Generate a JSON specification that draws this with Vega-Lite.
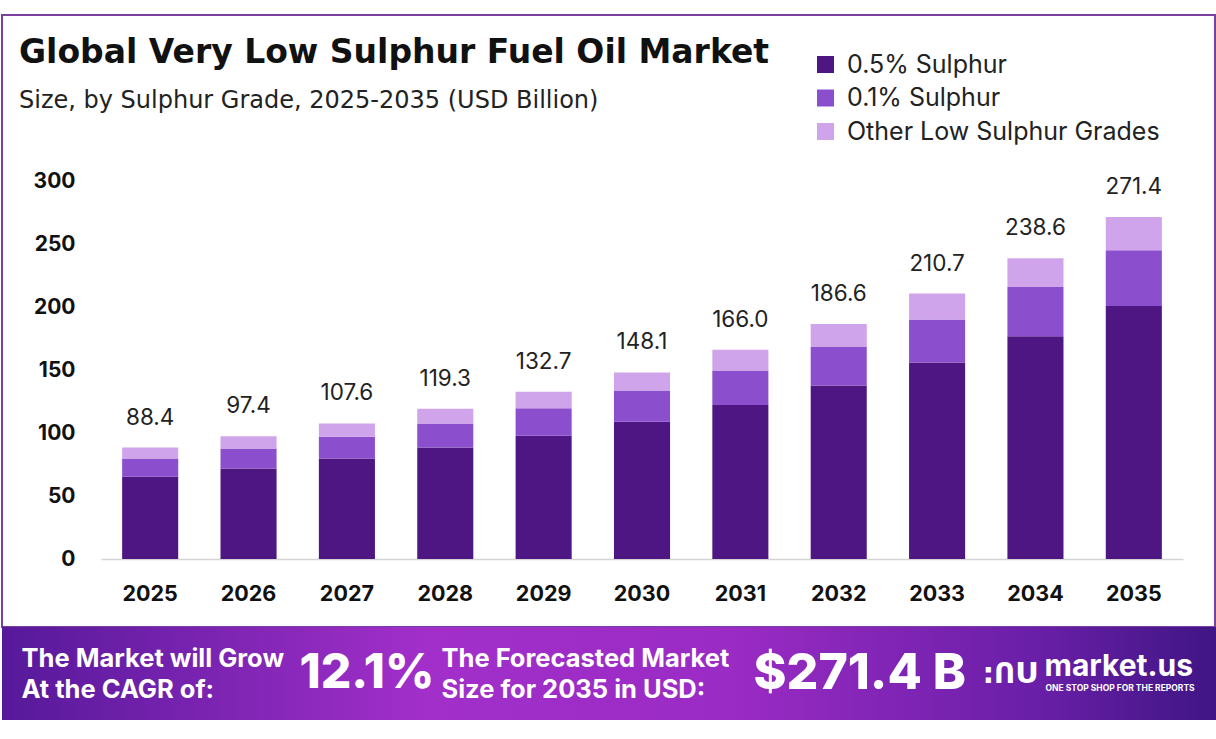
{
  "$schema": "https://vega.github.io/schema/vega-lite/v6.json",
  "padding": {"left": 1, "top": 14, "right": 0, "bottom": 0},
  "background": "white",
  "spacing": 0,
  "bounds": "flush",
  "datasets": {
    "segments": [
      {"year": "2025", "grade": "0.5% Sulphur", "value": 65.2},
      {"year": "2025", "grade": "0.1% Sulphur", "value": 14.6},
      {"year": "2025", "grade": "Other Low Sulphur Grades", "value": 8.6},
      {"year": "2026", "grade": "0.5% Sulphur", "value": 71.8},
      {"year": "2026", "grade": "0.1% Sulphur", "value": 15.9},
      {"year": "2026", "grade": "Other Low Sulphur Grades", "value": 9.7},
      {"year": "2027", "grade": "0.5% Sulphur", "value": 79.8},
      {"year": "2027", "grade": "0.1% Sulphur", "value": 17.2},
      {"year": "2027", "grade": "Other Low Sulphur Grades", "value": 10.6},
      {"year": "2028", "grade": "0.5% Sulphur", "value": 88.5},
      {"year": "2028", "grade": "0.1% Sulphur", "value": 19.1},
      {"year": "2028", "grade": "Other Low Sulphur Grades", "value": 11.7},
      {"year": "2029", "grade": "0.5% Sulphur", "value": 97.9},
      {"year": "2029", "grade": "0.1% Sulphur", "value": 21.7},
      {"year": "2029", "grade": "Other Low Sulphur Grades", "value": 13.1},
      {"year": "2030", "grade": "0.5% Sulphur", "value": 109.0},
      {"year": "2030", "grade": "0.1% Sulphur", "value": 24.7},
      {"year": "2030", "grade": "Other Low Sulphur Grades", "value": 14.4},
      {"year": "2031", "grade": "0.5% Sulphur", "value": 122.3},
      {"year": "2031", "grade": "0.1% Sulphur", "value": 27.3},
      {"year": "2031", "grade": "Other Low Sulphur Grades", "value": 16.4},
      {"year": "2032", "grade": "0.5% Sulphur", "value": 137.6},
      {"year": "2032", "grade": "0.1% Sulphur", "value": 31.1},
      {"year": "2032", "grade": "Other Low Sulphur Grades", "value": 17.9},
      {"year": "2033", "grade": "0.5% Sulphur", "value": 156.0},
      {"year": "2033", "grade": "0.1% Sulphur", "value": 34.1},
      {"year": "2033", "grade": "Other Low Sulphur Grades", "value": 20.6},
      {"year": "2034", "grade": "0.5% Sulphur", "value": 176.8},
      {"year": "2034", "grade": "0.1% Sulphur", "value": 39.0},
      {"year": "2034", "grade": "Other Low Sulphur Grades", "value": 22.8},
      {"year": "2035", "grade": "0.5% Sulphur", "value": 200.7},
      {"year": "2035", "grade": "0.1% Sulphur", "value": 44.3},
      {"year": "2035", "grade": "Other Low Sulphur Grades", "value": 26.4}
    ],
    "totals": [
      {"year": "2025", "total": 88.4},
      {"year": "2026", "total": 97.4},
      {"year": "2027", "total": 107.6},
      {"year": "2028", "total": 119.3},
      {"year": "2029", "total": 132.7},
      {"year": "2030", "total": 148.1},
      {"year": "2031", "total": 166.0},
      {"year": "2032", "total": 186.6},
      {"year": "2033", "total": 210.7},
      {"year": "2034", "total": 238.6},
      {"year": "2035", "total": 271.4}
    ],
    "banner": [
      {"item": "cagr_label", "part": "label", "text": "The Market will Grow\nAt the CAGR of:"},
      {"item": "cagr", "part": "big", "text": "12.1%"},
      {"item": "size_label", "part": "label", "text": "The Forecasted Market\nSize for 2035 in USD:"},
      {"item": "size", "part": "big", "text": "$271.4 B"},
      {"item": "brand", "part": "icon", "text": ":ՈՍ"},
      {"item": "brand", "part": "name", "text": "market.us"},
      {"item": "brand", "part": "tag", "text": "ONE STOP SHOP FOR THE REPORTS"}
    ]
  },
  "vconcat": [
    {
      "width": 1213,
      "height": 612,
      "view": {"stroke": "#7b3f9e", "strokeWidth": 2, "fill": "white"},
      "title": {
        "text": "Global Very Low Sulphur Fuel Oil Market",
        "subtitle": "Size, by Sulphur Grade, 2025-2035 (USD Billion)",
        "orient": "top",
        "anchor": "start",
        "frame": "group",
        "offset": -98,
        "dx": 17,
        "font": "DejaVu Sans",
        "fontSize": 33,
        "fontWeight": "bold",
        "color": "#111111",
        "subtitleFont": "DejaVu Sans",
        "subtitleFontSize": 24,
        "subtitleColor": "#222222",
        "subtitlePadding": 19
      },
      "encoding": {
        "x": {
          "field": "year",
          "type": "nominal",
          "scale": {"type": "band", "range": [99, 1181], "paddingInner": 0.43, "paddingOuter": 0.215},
          "axis": {
            "orient": "bottom",
            "offset": -68,
            "title": null,
            "labelAngle": 0,
            "domainColor": "#d4d4d4",
            "domainWidth": 1.5,
            "ticks": false,
            "tickSize": 0,
            "labelPadding": 24,
            "labelFont": "Inter",
            "labelFontSize": 21.5,
            "labelFontWeight": "bold",
            "labelColor": "#111111"
          }
        }
      },
      "layer": [
        {
          "data": {"name": "segments"},
          "transform": [
            {"calculate": "indexof(['0.5% Sulphur', '0.1% Sulphur', 'Other Low Sulphur Grades'], datum.grade)", "as": "stack_rank"}
          ],
          "mark": {"type": "bar"},
          "encoding": {
            "y": {
              "field": "value",
              "type": "quantitative",
              "stack": "zero",
              "scale": {"domain": [0, 300], "range": [544, 166], "nice": false},
              "axis": {
                "orient": "left",
                "offset": -99,
                "title": null,
                "domain": false,
                "ticks": false,
                "tickSize": 0,
                "grid": false,
                "values": [0, 50, 100, 150, 200, 250, 300],
                "labelPadding": 26,
                "labelFont": "Inter",
                "labelFontSize": 21,
                "labelFontWeight": "bold",
                "labelColor": "#111111"
              }
            },
            "order": {"field": "stack_rank", "type": "quantitative", "sort": "ascending"},
            "color": {
              "field": "grade",
              "type": "nominal",
              "sort": ["0.5% Sulphur", "0.1% Sulphur", "Other Low Sulphur Grades"],
              "scale": {
                "domain": ["0.5% Sulphur", "0.1% Sulphur", "Other Low Sulphur Grades"],
                "range": ["#4e1682", "#8b4ecc", "#d0a4ea"]
              },
              "legend": {
                "orient": "none",
                "legendX": 811,
                "legendY": 37,
                "title": null,
                "padding": 0,
                "symbolType": "square",
                "symbolSize": 290,
                "symbolStrokeWidth": 0,
                "labelFont": "Inter",
                "labelFontSize": 25,
                "labelLimit": 500,
                "labelColor": "#222222",
                "labelOffset": 9,
                "rowPadding": 7.5
              }
            }
          }
        },
        {
          "data": {"name": "totals"},
          "mark": {"type": "text", "baseline": "bottom", "dy": -18, "font": "Inter", "fontSize": 22.5, "color": "#222222"},
          "encoding": {
            "y": {"field": "total", "type": "quantitative"},
            "text": {"field": "total", "type": "quantitative", "format": ".1f"}
          }
        }
      ]
    },
    {
      "width": 1215,
      "height": 93,
      "data": {"name": "banner"},
      "view": {
        "stroke": null,
        "fill": {
          "gradient": "linear",
          "x1": 0, "y1": 0, "x2": 1, "y2": 0,
          "stops": [
            {"offset": 0, "color": "#56199a"},
            {"offset": 0.35, "color": "#a22fca"},
            {"offset": 0.6, "color": "#9a2bc4"},
            {"offset": 0.85, "color": "#6a1fa8"},
            {"offset": 1, "color": "#3f1584"}
          ]
        }
      },
      "encoding": {
        "x": {
          "field": "item",
          "type": "nominal",
          "scale": {"type": "point", "domain": ["cagr_label", "cagr", "size_label", "size", "brand"], "padding": 0.5},
          "axis": null
        },
        "text": {"field": "text", "type": "nominal"}
      },
      "layer": [
        {
          "transform": [{"filter": "datum.item == 'cagr_label'"}],
          "mark": {"type": "text", "align": "left", "baseline": "middle", "dx": -102, "dy": -15, "lineBreak": "\n", "lineHeight": 31, "font": "Inter", "fontSize": 25.5, "fontWeight": "bold", "color": "white"}
        },
        {
          "transform": [{"filter": "datum.item == 'size_label'"}],
          "mark": {"type": "text", "align": "left", "baseline": "middle", "dx": -168, "dy": -15, "lineBreak": "\n", "lineHeight": 31, "font": "Inter", "fontSize": 25.5, "fontWeight": "bold", "color": "white"}
        },
        {
          "transform": [{"filter": "datum.item == 'cagr'"}],
          "mark": {"type": "text", "align": "left", "baseline": "middle", "dx": -67, "font": "Inter", "fontSize": 48, "fontWeight": 800, "color": "white"}
        },
        {
          "transform": [{"filter": "datum.item == 'size'"}],
          "mark": {"type": "text", "align": "left", "baseline": "middle", "dx": -99, "font": "Inter", "fontSize": 50, "fontWeight": 800, "color": "white"}
        },
        {
          "transform": [{"filter": "datum.part == 'icon'"}],
          "mark": {"type": "text", "align": "left", "baseline": "middle", "dx": -113, "font": "DejaVu Sans", "fontSize": 29, "fontWeight": "bold", "color": "white"}
        },
        {
          "transform": [{"filter": "datum.part == 'name'"}],
          "mark": {"type": "text", "align": "left", "baseline": "middle", "dx": -51, "dy": -7, "font": "Inter", "fontSize": 30, "fontWeight": "bold", "color": "white"}
        },
        {
          "transform": [{"filter": "datum.part == 'tag'"}],
          "mark": {"type": "text", "align": "left", "baseline": "middle", "dx": -50, "dy": 14, "font": "Inter", "fontSize": 8.5, "fontWeight": "bold", "color": "white"}
        }
      ]
    }
  ]
}
